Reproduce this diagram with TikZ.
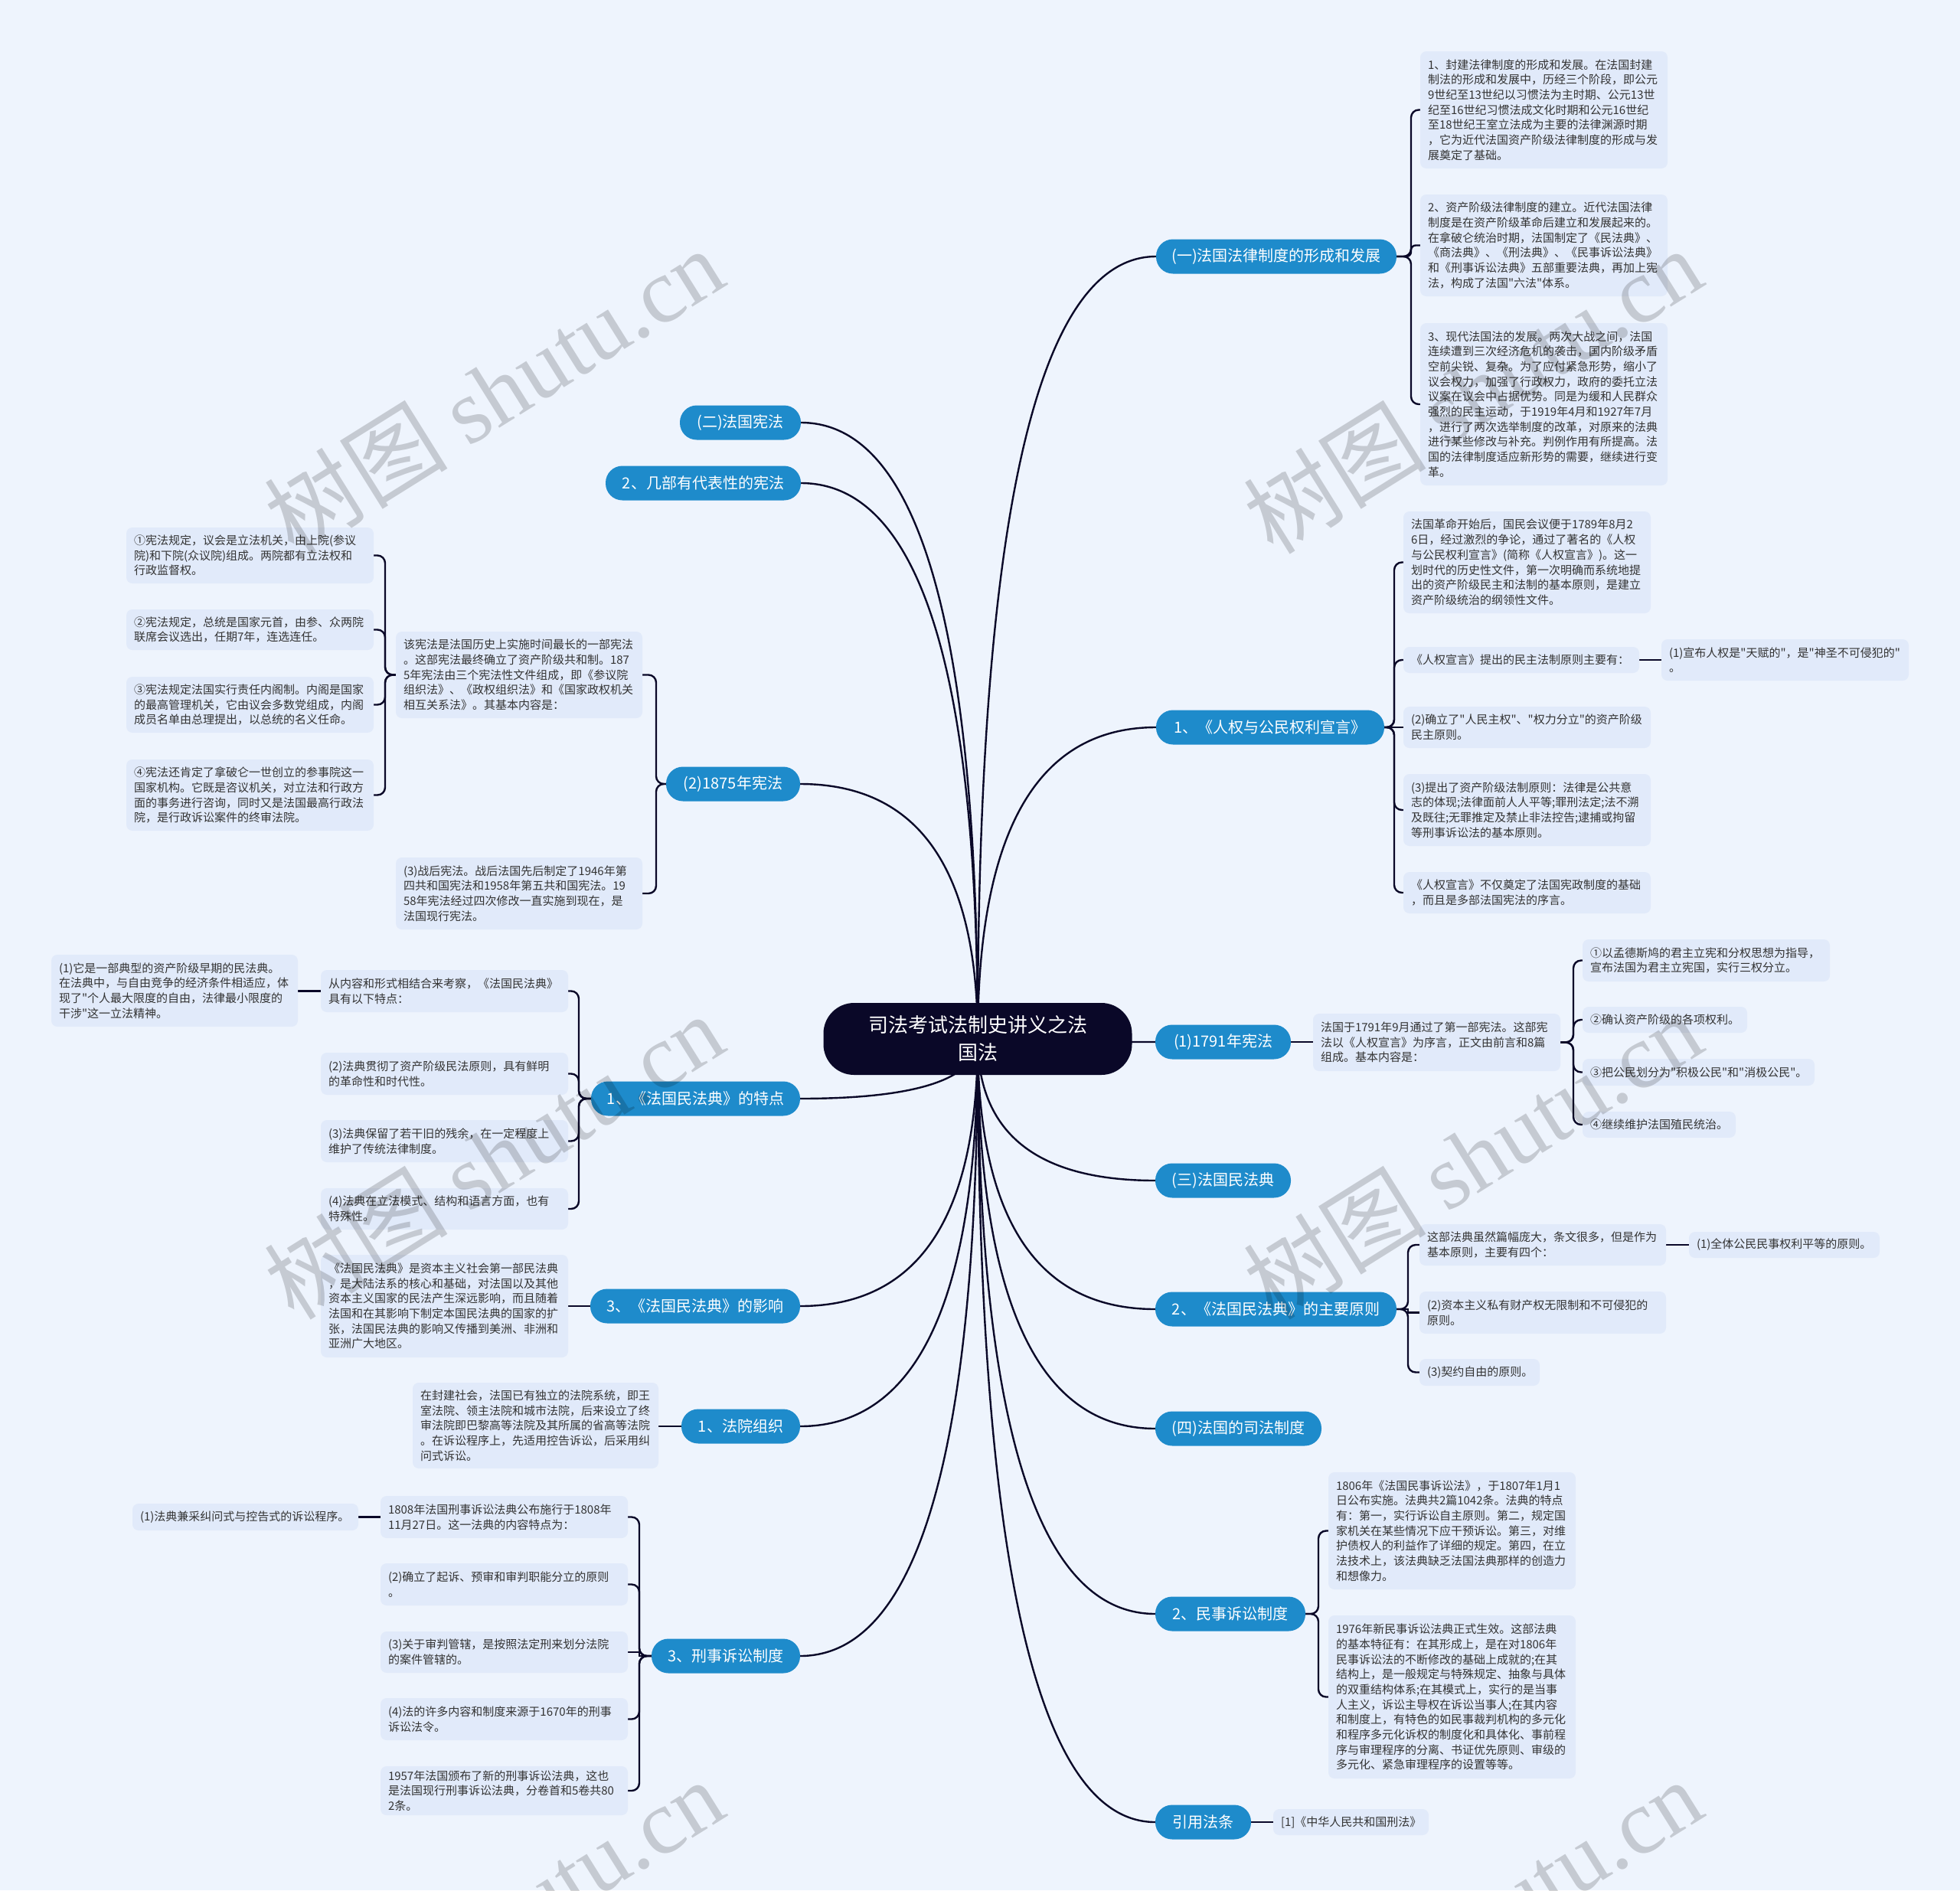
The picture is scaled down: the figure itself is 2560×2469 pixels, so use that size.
\documentclass[tikz,border=0pt]{standalone}
\usepackage{fontspec}
\setmainfont{Noto Sans CJK SC}
\newfontfamily\cjkf{Noto Sans CJK SC}
\newfontfamily\wmserif{Liberation Serif}
\usetikzlibrary{calc}
\definecolor{bgc}{RGB}{238,244,253}
\definecolor{boxc}{RGB}{225,234,250}
\definecolor{bluec}{RGB}{30,139,203}
\definecolor{navy}{RGB}{10,8,40}
\definecolor{txt}{RGB}{51,51,51}
\pgfdeclarelayer{background}
\pgfsetlayers{background,main}
\newcommand\tb[6]{%
  \pgfmathsetmacro\mytbw{#4-#2-20}%
  \pgfmathsetmacro\mytbh{#5-#3}%
  \pgfmathsetmacro\mytbx{(#2+#4)/2}%
  \pgfmathsetmacro\mytby{(#3+#5)/2}%
  \node[tbox, text width=\mytbw pt, minimum height=\mytbh pt] (#1) at (\mytbx,\mytby) {#6};}
\newcommand\bn[5]{%
  \pgfmathsetmacro\mytbw{#3-#2}%
  \pgfmathsetmacro\mytbx{(#2+#3)/2}%
  \node[bnode, minimum width=\mytbw pt] (#1) at (\mytbx,#4) {#5};}
\newcommand\cR[1]{%
  \coordinate (tmpc) at (C.center |- #1.west);
  \draw[conn] (C.center) .. controls ($(C.center)!0.6667!(tmpc)$) and ($(#1.west)!0.6667!(tmpc)$) .. (#1.west);}
\newcommand\cL[1]{%
  \coordinate (tmpc) at (C.center |- #1.east);
  \draw[conn] (C.center) .. controls ($(C.center)!0.6667!(tmpc)$) and ($(#1.east)!0.6667!(tmpc)$) .. (#1.east);}
\newcommand\brR[4][rounded corners=10pt]{\draw[conn,#1] (#2.east) -- (#2.east -| #3) -- (#3 |- #4.west) -- (#4.west);}
\newcommand\brL[4][rounded corners=10pt]{\draw[conn,#1] (#2.west) -- (#2.west -| #3) -- (#3 |- #4.east) -- (#4.east);}
\newcommand\hR[2]{\draw[conn] (#1.east) -- (#1.east -| #2.west);}
\newcommand\hL[2]{\draw[conn] (#1.west) -- (#1.west -| #2.east);}
\begin{document}
\begin{tikzpicture}[x=1pt,y=-1pt,
  tbox/.style={rectangle, rounded corners=8pt, fill=boxc, text=txt, font=\cjkf\fontsize{15}{19.7}\selectfont, align=left, inner xsep=10pt, inner ysep=0pt, outer sep=0pt},
  bnode/.style={rectangle, rounded corners=22pt, fill=bluec, text=white, font=\cjkf\fontsize{20}{24}\selectfont, minimum height=45pt, inner sep=0pt, outer sep=0pt},
  conn/.style={draw=navy, line width=2.4pt},
  wmark/.style={rotate=32, text=black, opacity=0.17, font=\cjkf\fontsize{120}{120}\selectfont, inner sep=0pt}
]
\useasboundingbox (0,0) rectangle (2560,2469);
\begin{pgfonlayer}{background}
\fill[bgc] (0,0) rectangle (2560,2469);
\end{pgfonlayer}

% central node
\node[fill=navy, text=white, rounded corners=40pt, minimum width=403pt, minimum height=94pt, inner sep=0pt, align=center, font=\cjkf\fontsize{26}{36}\selectfont] (C) at (1277,1357) {司法考试法制史讲义之法\\国法};

% right main branches
\bn{n1}{1510}{1824}{335}{(一)法国法律制度的形成和发展}
\bn{n2}{1510}{1808}{950}{1、《人权与公民权利宣言》}
\bn{n3}{1509}{1686}{1361}{(1)1791年宪法}
\bn{n4}{1509}{1686}{1542}{(三)法国民法典}
\bn{n5}{1509}{1824}{1710}{2、《法国民法典》的主要原则}
\bn{n6}{1509}{1726}{1866}{(四)法国的司法制度}
\bn{n7}{1509}{1705}{2108}{2、民事诉讼制度}
\bn{n8}{1509}{1634}{2380}{引用法条}
% left main branches
\bn{m1}{888}{1046}{552}{(二)法国宪法}
\bn{m2}{791}{1046}{631}{2、几部有代表性的宪法}
\bn{m3}{870}{1045}{1024}{(2)1875年宪法}
\bn{m4}{772}{1045}{1435}{1、《法国民法典》的特点}
\bn{m5}{771}{1045}{1706}{3、《法国民法典》的影响}
\bn{m6}{890}{1045}{1863}{1、法院组织}
\bn{m7}{851}{1045}{2163}{3、刑事诉讼制度}

% right detail boxes
\tb{A1}{1855}{67}{2178}{220}{1、封建法律制度的形成和发展。在法国封建\\制法的形成和发展中，历经三个阶段，即公元\\9世纪至13世纪以习惯法为主时期、公元13世\\纪至16世纪习惯法成文化时期和公元16世纪\\至18世纪王室立法成为主要的法律渊源时期\\，它为近代法国资产阶级法律制度的形成与发\\展奠定了基础。}
\tb{A2}{1855}{254}{2178}{387}{2、资产阶级法律制度的建立。近代法国法律\\制度是在资产阶级革命后建立和发展起来的。\\在拿破仑统治时期，法国制定了《民法典》、\\《商法典》、《刑法典》、《民事诉讼法典》\\和《刑事诉讼法典》五部重要法典，再加上宪\\法，构成了法国"六法"体系。}
\tb{A3}{1855}{422}{2178}{634}{3、现代法国法的发展。两次大战之间，法国\\连续遭到三次经济危机的袭击，国内阶级矛盾\\空前尖锐、复杂。为了应付紧急形势，缩小了\\议会权力，加强了行政权力，政府的委托立法\\议案在议会中占据优势。同是为缓和人民群众\\强烈的民主运动，于1919年4月和1927年7月\\，进行了两次选举制度的改革，对原来的法典\\进行某些修改与补充。判例作用有所提高。法\\国的法律制度适应新形势的需要，继续进行变\\革。}
\tb{B1}{1833}{668}{2156}{801}{法国革命开始后，国民会议便于1789年8月2\\6日，经过激烈的争论，通过了著名的《人权\\与公民权利宣言》(简称《人权宣言》)。这一\\划时代的历史性文件，第一次明确而系统地提\\出的资产阶级民主和法制的基本原则，是建立\\资产阶级统治的纲领性文件。}
\tb{B2}{1833}{845}{2141}{879}{《人权宣言》提出的民主法制原则主要有：}
\tb{B2a}{2170}{835}{2493}{889}{(1)宣布人权是"天赋的"，是"神圣不可侵犯的"\\。}
\tb{B3}{1833}{923}{2156}{977}{(2)确立了"人民主权"、"权力分立"的资产阶级\\民主原则。}
\tb{B4}{1833}{1011}{2156}{1105}{(3)提出了资产阶级法制原则：法律是公共意\\志的体现;法律面前人人平等;罪刑法定;法不溯\\及既往;无罪推定及禁止非法控告;逮捕或拘留\\等刑事诉讼法的基本原则。}
\tb{B5}{1833}{1139}{2156}{1193}{《人权宣言》不仅奠定了法国宪政制度的基础\\，而且是多部法国宪法的序言。}
\tb{C1}{1715}{1324}{2038}{1399}{法国于1791年9月通过了第一部宪法。这部宪\\法以《人权宣言》为序言，正文由前言和8篇\\组成。基本内容是：}
\tb{C1a}{2067}{1227}{2390}{1282}{①以孟德斯鸠的君主立宪和分权思想为指导，\\宣布法国为君主立宪国，实行三权分立。}
\tb{C1b}{2067}{1315}{2282}{1349}{②确认资产阶级的各项权利。}
\tb{C1c}{2067}{1383}{2370}{1418}{③把公民划分为"积极公民"和"消极公民"。}
\tb{C1d}{2067}{1452}{2267}{1486}{④继续维护法国殖民统治。}
\tb{D1}{1854}{1599}{2176}{1653}{这部法典虽然篇幅庞大，条文很多，但是作为\\基本原则，主要有四个：}
\tb{D1a}{2206}{1609}{2455}{1643}{(1)全体公民民事权利平等的原则。}
\tb{D2}{1854}{1687}{2176}{1742}{(2)资本主义私有财产权无限制和不可侵犯的\\原则。}
\tb{D3}{1854}{1775}{2011}{1810}{(3)契约自由的原则。}
\tb{E1}{1735}{1923}{2058}{2076}{1806年《法国民事诉讼法》，于1807年1月1\\日公布实施。法典共2篇1042条。法典的特点\\有：第一，实行诉讼自主原则。第二，规定国\\家机关在某些情况下应干预诉讼。第三，对维\\护债权人的利益作了详细的规定。第四，在立\\法技术上，该法典缺乏法国法典那样的创造力\\和想像力。}
\tb{E2}{1735}{2110}{2058}{2323}{1976年新民事诉讼法典正式生效。这部法典\\的基本特征有：在其形成上，是在对1806年\\民事诉讼法的不断修改的基础上成就的;在其\\结构上，是一般规定与特殊规定、抽象与具体\\的双重结构体系;在其模式上，实行的是当事\\人主义，诉讼主导权在诉讼当事人;在其内容\\和制度上，有特色的如民事裁判机构的多元化\\和程序多元化诉权的制度化和具体化、事前程\\序与审理程序的分离、书证优先原则、审级的\\多元化、紧急审理程序的设置等等。}
\tb{F1}{1663}{2363}{1866}{2397}{[1]《中华人民共和国刑法》}

% left detail boxes
\tb{G1}{517}{825}{839}{938}{该宪法是法国历史上实施时间最长的一部宪法\\。这部宪法最终确立了资产阶级共和制。187\\5年宪法由三个宪法性文件组成，即《参议院\\组织法》、《政权组织法》和《国家政权机关\\相互关系法》。其基本内容是：}
\tb{G2}{517}{1120}{839}{1214}{(3)战后宪法。战后法国先后制定了1946年第\\四共和国宪法和1958年第五共和国宪法。19\\58年宪法经过四次修改一直实施到现在，是\\法国现行宪法。}
\tb{H1}{165}{689}{488}{762}{①宪法规定，议会是立法机关，由上院(参议\\院)和下院(众议院)组成。两院都有立法权和\\行政监督权。}
\tb{H2}{165}{796}{488}{849}{②宪法规定，总统是国家元首，由参、众两院\\联席会议选出，任期7年，连选连任。}
\tb{H3}{165}{884}{488}{957}{③宪法规定法国实行责任内阁制。内阁是国家\\的最高管理机关，它由议会多数党组成，内阁\\成员名单由总理提出，以总统的名义任命。}
\tb{H4}{165}{992}{488}{1085}{④宪法还肯定了拿破仑一世创立的参事院这一\\国家机构。它既是咨议机关，对立法和行政方\\面的事务进行咨询，同时又是法国最高行政法\\院，是行政诉讼案件的终审法院。}
\tb{I0}{67}{1247}{389}{1341}{(1)它是一部典型的资产阶级早期的民法典。\\在法典中，与自由竞争的经济条件相适应，体\\现了"个人最大限度的自由，法律最小限度的\\干涉"这一立法精神。}
\tb{I1}{419}{1267}{742}{1322}{从内容和形式相结合来考察，《法国民法典》\\具有以下特点：}
\tb{I2}{419}{1375}{742}{1430}{(2)法典贯彻了资产阶级民法原则，具有鲜明\\的革命性和时代性。}
\tb{I3}{419}{1463}{742}{1518}{(3)法典保留了若干旧的残余，在一定程度上\\维护了传统法律制度。}
\tb{I4}{419}{1552}{742}{1606}{(4)法典在立法模式、结构和语言方面，也有\\特殊性。}
\tb{J1}{419}{1639}{742}{1773}{《法国民法典》是资本主义社会第一部民法典\\，是大陆法系的核心和基础，对法国以及其他\\资本主义国家的民法产生深远影响，而且随着\\法国和在其影响下制定本国民法典的国家的扩\\张，法国民法典的影响又传播到美洲、非洲和\\亚洲广大地区。}
\tb{K1}{539}{1806}{860}{1918}{在封建社会，法国已有独立的法院系统，即王\\室法院、领主法院和城市法院，后来设立了终\\审法院即巴黎高等法院及其所属的省高等法院\\。在诉讼程序上，先适用控告诉讼，后采用纠\\问式诉讼。}
\tb{L0}{173}{1964}{468}{1999}{(1)法典兼采纠问式与控告式的诉讼程序。}
\tb{L1}{497}{1954}{820}{2009}{1808年法国刑事诉讼法典公布施行于1808年\\11月27日。这一法典的内容特点为：}
\tb{L2}{497}{2042}{820}{2097}{(2)确立了起诉、预审和审判职能分立的原则\\。}
\tb{L3}{497}{2131}{820}{2185}{(3)关于审判管辖，是按照法定刑来划分法院\\的案件管辖的。}
\tb{L4}{497}{2218}{820}{2273}{(4)法的许多内容和制度来源于1670年的刑事\\诉讼法令。}
\tb{L5}{497}{2307}{820}{2371}{1957年法国颁布了新的刑事诉讼法典，这也\\是法国现行刑事诉讼法典，分卷首和5卷共80\\2条。}

% spine coordinates
\coordinate (sA) at (1843,0);
\coordinate (sB) at (1821,0);
\coordinate (sC) at (2055,0);
\coordinate (sD) at (1839,0);
\coordinate (sE) at (1722,0);
\coordinate (sG) at (857,0);
\coordinate (sH) at (503,0);
\coordinate (sI) at (756,0);
\coordinate (sL) at (835,0);

\begin{pgfonlayer}{background}
% central connectors
\cR{n1}\cR{n2}\cR{n3}\cR{n4}\cR{n5}\cR{n6}\cR{n7}\cR{n8}
\cL{m1}\cL{m2}\cL{m3}\cL{m4}\cL{m5}\cL{m6}\cL{m7}
% right brackets
\brR{n1}{sA}{A1}\brR[rounded corners=6pt]{n1}{sA}{A2}\brR{n1}{sA}{A3}
\brR{n2}{sB}{B1}\brR{n2}{sB}{B2}\brR[sharp corners]{n2}{sB}{B3}\brR{n2}{sB}{B4}\brR{n2}{sB}{B5}
\hR{B2}{B2a}
\hR{n3}{C1}
\brR{C1}{sC}{C1a}\brR{C1}{sC}{C1b}\brR{C1}{sC}{C1c}\brR{C1}{sC}{C1d}
\brR{n5}{sD}{D1}\brR[sharp corners]{n5}{sD}{D2}\brR{n5}{sD}{D3}
\hR{D1}{D1a}
\brR{n7}{sE}{E1}\brR{n7}{sE}{E2}
\hR{n8}{F1}
% left brackets
\brL{m3}{sG}{G1}\brL{m3}{sG}{G2}
\brL{G1}{sH}{H1}\brL{G1}{sH}{H2}\brL{G1}{sH}{H3}\brL{G1}{sH}{H4}
\brL{m4}{sI}{I1}\brL{m4}{sI}{I2}\brL{m4}{sI}{I3}\brL{m4}{sI}{I4}
\hL{I1}{I0}
\hL{m5}{J1}
\hL{m6}{K1}
\brL{m7}{sL}{L1}\brL{m7}{sL}{L2}\brL[sharp corners]{m7}{sL}{L3}\brL{m7}{sL}{L4}\brL{m7}{sL}{L5}
\hL{L1}{L0}
\end{pgfonlayer}

% watermarks
\begin{scope}
\clip (0,0) rectangle (2560,2469);
\foreach \wx/\wy [count=\wi] in {645/510, 1923/510, 645/1510, 1923/1510, 645/2510, 1923/2510}
  \node[wmark] (w\wi) at (\wx,\wy) {树图 {\wmserif shutu.cn}};
\end{scope}
\end{tikzpicture}
\end{document}
